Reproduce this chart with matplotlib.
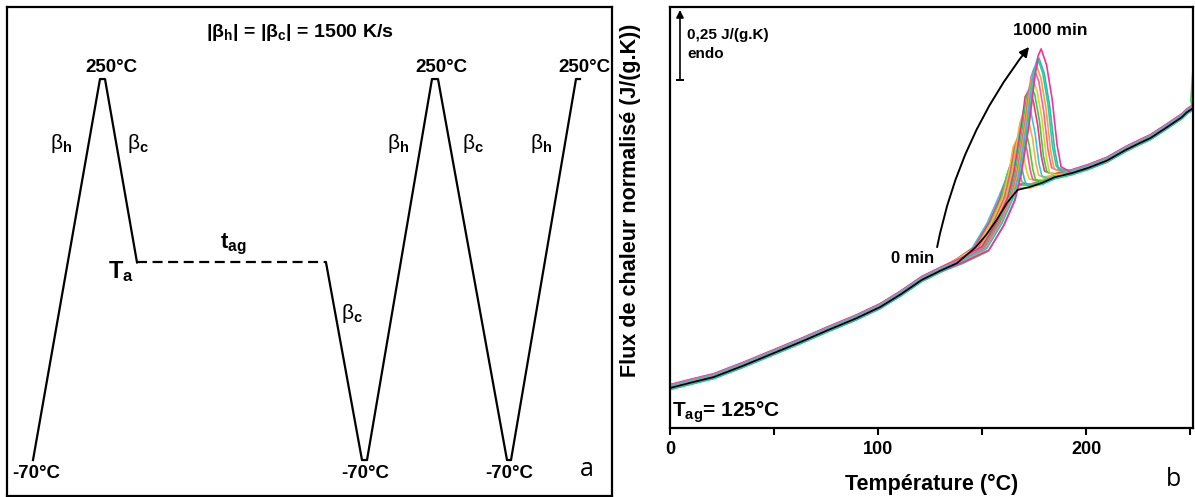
import matplotlib
matplotlib.use('Agg')
import matplotlib.pyplot as plt

plt.rcParams['font.family'] = ['Liberation Sans', 'DejaVu Sans']
plt.rcParams['mathtext.fontset'] = 'custom'
plt.rcParams['mathtext.rm'] = 'Liberation Sans'
plt.rcParams['mathtext.it'] = 'Liberation Sans:italic'
plt.rcParams['mathtext.bf'] = 'Liberation Sans:bold'

# ---- panel a : thermal protocol (time in arbitrary units, temperature in degC)
ramp1_t = [0, 67, 72, 104]
ramp1_T = [-70, 250, 250, 96]
aging_t = [104, 293]
aging_T = [96, 96]
ramp2_t = [293, 329, 334, 399, 405, 474, 478, 543, 547]
ramp2_T = [96, -70, -70, 250, 250, -70, -70, 250, 250]

# ---- panel b : normalised heat flow, J/(g.K)
base_T = [0, 10, 21, 35, 50, 63, 76, 89, 101, 111, 121, 130, 138, 147, 152, 157,
          162, 167, 173, 179, 185, 193, 201, 210, 219, 225, 231, 238, 246, 248.5, 251]
base_y = [0.143, 0.162, 0.182, 0.222, 0.268, 0.308, 0.350, 0.390, 0.432, 0.478, 0.529,
          0.562, 0.589, 0.646, 0.690, 0.743, 0.804, 0.850, 0.861, 0.876, 0.896, 0.910,
          0.929, 0.955, 0.993, 1.015, 1.036, 1.070, 1.110, 1.128, 1.140]

# aged scans, transition region only (0 min -> 1000 min)
aged_T = [
    [137.0, 145.2, 152.4, 157.7, 161.1, 162.3, 163.5, 164.6, 165.4, 166.7],
    [137.3, 145.7, 152.9, 158.2, 162.5, 163.8, 165.0, 166.2, 167.1, 168.5],
    [137.5, 146.2, 153.4, 158.7, 163.5, 164.8, 166.2, 167.4, 168.4, 169.9],
    [137.8, 146.6, 153.8, 159.1, 162.0, 164.7, 166.1, 167.6, 168.9, 170.0, 171.6],
    [138.0, 147.1, 154.3, 159.6, 162.5, 165.9, 167.4, 169.0, 170.4, 171.5, 173.2],
    [138.2, 147.6, 154.8, 160.1, 163.0, 164.9, 166.8, 168.4, 170.0, 171.5, 172.7, 174.4],
    [138.5, 148.1, 155.3, 160.6, 163.5, 165.4, 168.3, 170.0, 171.7, 173.2, 174.4, 176.3],
    [138.7, 148.6, 155.8, 161.1, 164.0, 165.9, 167.9, 169.2, 171.0, 172.8, 174.4, 175.7, 177.7],
    [139.0, 149.0, 156.2, 161.5, 164.4, 166.3, 168.2, 170.4, 172.2, 174.2, 175.9, 177.2, 179.3],
    [139.2, 149.5, 156.7, 162.0, 164.9, 166.8, 168.7, 170.1, 171.6, 173.5, 175.5, 177.3, 178.7, 180.9],
    [139.4, 150.0, 157.2, 162.5, 165.4, 167.3, 169.2, 170.7, 172.6, 174.6, 176.7, 178.5, 180.0, 182.2],
    [139.6, 150.5, 157.7, 163.0, 165.9, 167.8, 169.7, 171.2, 173.3, 175.4, 177.6, 179.5, 181.1, 183.4],
    [139.9, 151.0, 158.2, 163.5, 166.4, 168.3, 170.2, 171.7, 174.3, 176.5, 178.8, 180.8, 182.4, 184.8],
    [140.1, 151.4, 158.6, 163.9, 166.8, 168.7, 170.6, 172.1, 173.6, 175.0, 177.3, 179.6, 181.7, 183.4, 185.9],
    [140.4, 151.9, 159.1, 164.4, 167.3, 169.2, 171.1, 172.6, 174.0, 176.0, 178.3, 180.8, 182.9, 184.6, 187.3],
    [140.6, 152.4, 159.6, 164.9, 167.8, 169.7, 171.6, 173.1, 174.5, 176.7, 179.1, 181.7, 183.9, 185.7, 188.5],
    [140.8, 152.9, 160.1, 165.4, 168.3, 170.2, 172.1, 173.6, 175.0, 177.4, 179.9, 182.5, 184.9, 186.7, 189.5],
    [141.1, 153.4, 160.6, 165.9, 168.8, 170.7, 172.6, 174.1, 175.5, 177.0, 178.4, 181.0, 183.7, 186.1, 188.0, 190.9],
]
aged_y = [
    [0.593, 0.636, 0.725, 0.814, 0.875, 0.872, 0.865, 0.858, 0.856, 0.860],
    [0.593, 0.636, 0.725, 0.814, 0.900, 0.894, 0.881, 0.864, 0.856, 0.862],
    [0.593, 0.636, 0.725, 0.814, 0.929, 0.920, 0.900, 0.873, 0.860, 0.866],
    [0.593, 0.636, 0.725, 0.814, 0.904, 0.957, 0.945, 0.918, 0.883, 0.866, 0.868],
    [0.593, 0.636, 0.725, 0.814, 0.904, 0.989, 0.973, 0.939, 0.893, 0.872, 0.872],
    [0.593, 0.636, 0.725, 0.814, 0.904, 0.993, 1.021, 1.002, 0.960, 0.903, 0.878, 0.876],
    [0.593, 0.636, 0.725, 0.814, 0.904, 0.993, 1.057, 1.034, 0.983, 0.915, 0.883, 0.880],
    [0.593, 0.636, 0.725, 0.814, 0.904, 0.993, 1.070, 1.093, 1.066, 1.006, 0.926, 0.889, 0.883],
    [0.593, 0.636, 0.725, 0.814, 0.904, 0.993, 1.082, 1.129, 1.097, 1.029, 0.937, 0.895, 0.888],
    [0.593, 0.636, 0.725, 0.814, 0.904, 0.993, 1.082, 1.140, 1.164, 1.128, 1.052, 0.948, 0.901, 0.893],
    [0.593, 0.636, 0.725, 0.814, 0.904, 0.993, 1.082, 1.171, 1.196, 1.157, 1.072, 0.958, 0.906, 0.899],
    [0.593, 0.636, 0.725, 0.814, 0.904, 0.993, 1.082, 1.171, 1.225, 1.183, 1.091, 0.967, 0.911, 0.903],
    [0.593, 0.636, 0.725, 0.814, 0.904, 0.993, 1.082, 1.171, 1.250, 1.205, 1.107, 0.976, 0.915, 0.908],
    [0.593, 0.636, 0.725, 0.814, 0.904, 0.993, 1.082, 1.171, 1.245, 1.275, 1.227, 1.123, 0.984, 0.920, 0.911],
    [0.593, 0.636, 0.725, 0.814, 0.904, 0.993, 1.082, 1.171, 1.250, 1.296, 1.246, 1.137, 0.991, 0.924, 0.914],
    [0.593, 0.636, 0.725, 0.814, 0.904, 0.993, 1.082, 1.171, 1.261, 1.314, 1.262, 1.149, 0.996, 0.927, 0.917],
    [0.593, 0.636, 0.725, 0.814, 0.904, 0.993, 1.082, 1.171, 1.261, 1.325, 1.272, 1.156, 1.000, 0.929, 0.919],
    [0.593, 0.636, 0.725, 0.814, 0.904, 0.993, 1.082, 1.171, 1.261, 1.330, 1.354, 1.297, 1.174, 1.009, 0.933, 0.921],
]
# small vertical scatter of each scan around the reference
aged_shift = [0.006, -0.004, 0.009, 0.002, -0.006, 0.011, 0.004, -0.002, 0.008,
              0.000, 0.012, 0.005, -0.003, 0.010, 0.003, 0.007, -0.005, 0.000]
aged_colors = ['#34c6e6', '#ffa833', '#ff3b72', '#3bd45a', '#1fc7bb', '#ecc530',
               '#ff4f8f', '#44cf2b', '#ffae3d', '#2ccde0', '#f0308a', '#2fd13f',
               '#e3cf2b', '#ff5c9e', '#ffa22b', '#27c4d6', '#22c98f', '#ff2d95']
spike_T = [250.4, 251.3]
spike_y = [1.17, 1.27]

scale_T = 4.8
scale_bottom = 1.243
scale_len = 0.25

fig = plt.figure(figsize=(11.95, 4.97), dpi=100)

# ================= panel a
axa = fig.add_axes([7/1195, 1/497, 605/1195, 489/497])
axa.plot(ramp1_t, ramp1_T, color='black', lw=1.6)
axa.plot(aging_t, aging_T, color='black', lw=1.6, ls=(0, (4.5, 2.5)))
axa.plot(ramp2_t, ramp2_T, color='black', lw=1.6)
axa.set_xlim(-26, 579)
axa.set_ylim(-100.2, 310.5)
axa.set_xticks([])
axa.set_yticks([])
for s in axa.spines.values():
    s.set_linewidth(1.6)

axa.text(267, 289, r'|$\mathbf{\beta_h}$| = |$\mathbf{\beta_c}$| = 1500 K/s',
         ha='center', va='center', fontsize=14, fontweight='bold')
for tx in [78, 408, 551]:
    axa.text(tx, 260, '250°C', ha='center', va='center', fontsize=13.5, fontweight='bold')
for tx in [3, 332, 476]:
    axa.text(tx, -81, '-70°C', ha='center', va='center', fontsize=13.5, fontweight='bold')
for tx, lab in [(28, 'h'), (105, 'c'), (365, 'h'), (440, 'c'), (508, 'h')]:
    axa.text(tx, 196, r'$\mathrm{\beta}_{\mathbf{%s}}$' % lab, ha='center', va='center', fontsize=15)
axa.text(319, 53, r'$\mathrm{\beta}_{\mathbf{c}}$', ha='center', va='center', fontsize=15)
axa.text(200, 111, r'$\mathbf{t_{ag}}$', ha='center', va='center', fontsize=16)
axa.text(88, 88, r'$\mathbf{T_a}$', ha='center', va='center', fontsize=17)
fig.text(587/1195, 1 - 470/497, 'a', ha='center', va='center', fontsize=18,
         family=['Open Sans', 'DejaVu Sans'])

# ================= panel b
axb = fig.add_axes([670/1195, 69/497, 523/1195, 421/497])
for i in range(len(aged_T)):
    pre_T = [t for t in base_T if t <= 130]
    pre_y = [y for t, y in zip(base_T, base_y) if t <= 130]
    post_T = [t for t in base_T if t > aged_T[i][-1] + 1.5]
    post_y = [y for t, y in zip(base_T, base_y) if t > aged_T[i][-1] + 1.5]
    xs = pre_T + aged_T[i] + post_T
    ys = pre_y + aged_y[i] + post_y
    if i == 3:
        xs = xs + spike_T
        ys = ys + spike_y
    axb.plot(xs, [y + aged_shift[i] for y in ys], color=aged_colors[i], lw=1.2)
axb.plot(base_T, base_y, color='black', lw=1.2)

axb.set_xlim(0, 251.4)
axb.set_ylim(0, 1.5036)
axb.set_yticks([])
axb.set_xticks([0, 100, 200])
axb.set_xticklabels(['0', '100', '200'], fontweight='bold', fontsize=13)
axb.set_xticks([50, 150, 250], minor=True)
axb.tick_params(axis='x', which='both', direction='out', length=5, width=1.5, pad=4)
for s in axb.spines.values():
    s.set_linewidth(1.6)
axb.set_xlabel('Température (°C)', fontsize=15.5, fontweight='bold', labelpad=12)
axb.set_ylabel('Flux de chaleur normalisé (J/(g.K))', fontsize=15.5, fontweight='bold')
axb.yaxis.set_label_coords(-0.055, 0.54)

axb.text(1, 0.057, r'$\mathbf{T_{ag}}$= 125°C', ha='left', va='center',
         fontsize=15, fontweight='bold')
axb.text(116.8, 0.607, '0 min', ha='center', va='center', fontsize=12, fontweight='bold')
axb.text(182.7, 1.421, '1000 min', ha='center', va='center', fontsize=12.5, fontweight='bold')
axb.annotate('', xy=(172.6, 1.361), xytext=(128.4, 0.646),
             arrowprops=dict(arrowstyle='-|>', color='black', lw=1.4,
                             mutation_scale=14, connectionstyle='arc3,rad=-0.12',
                             shrinkA=0, shrinkB=0))
axb.annotate('', xy=(scale_T, scale_bottom + scale_len), xytext=(scale_T, scale_bottom),
             arrowprops=dict(arrowstyle='-|>', color='black', lw=1.2,
                             mutation_scale=11, shrinkA=0, shrinkB=0))
axb.plot([scale_T], [scale_bottom], marker='_', ms=6, mew=1.4, color='black')
axb.text(8.2, 1.404, '0,25 J/(g.K)', ha='left', va='center', fontsize=11, fontweight='bold')
axb.text(8.2, 1.334, 'endo', ha='left', va='center', fontsize=11, fontweight='bold')
fig.text(1173/1195, 1 - 480/497, 'b', ha='center', va='center', fontsize=18,
         family=['Open Sans', 'DejaVu Sans'])

fig.savefig('out.png', dpi=100)
